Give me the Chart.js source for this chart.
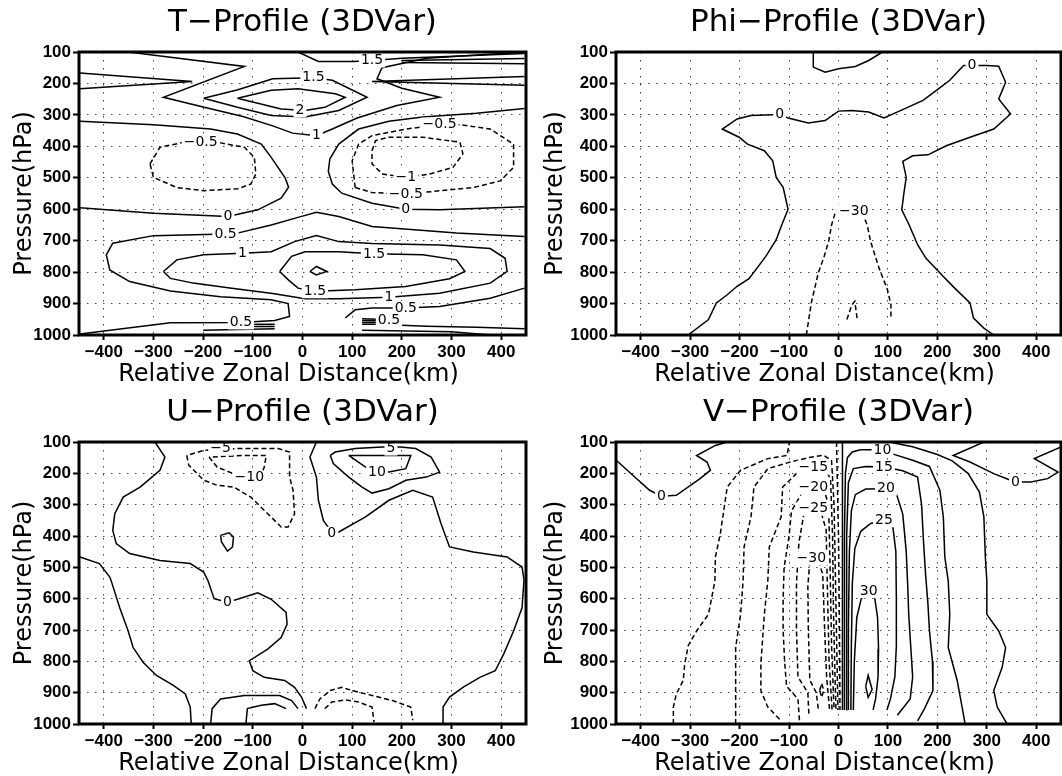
<!DOCTYPE html>
<html>
<head>
<meta charset="utf-8">
<script src="https://cdn.jsdelivr.net/npm/chart.js@4.4.1/dist/chart.umd.min.js"></script>
<style>
  body { margin: 0; background: #fff; }
  #wrap { position: relative; width: 1062px; height: 776px; }
  .panel { position: absolute; width: 531px; height: 388px; }
</style>
</head>
<body>
<div id="wrap">
  <div class="panel" style="left:0;top:0"><canvas id="cT" width="531" height="388"></canvas></div>
  <div class="panel" style="left:531px;top:0"><canvas id="cPhi" width="531" height="388"></canvas></div>
  <div class="panel" style="left:0;top:388px"><canvas id="cU" width="531" height="388"></canvas></div>
  <div class="panel" style="left:531px;top:388px"><canvas id="cV" width="531" height="388"></canvas></div>
</div>
<script>
// axes
const xTicks = [-400, -300, -200, -100, 0, 100, 200, 300, 400];
const pTicks = [100, 200, 300, 400, 500, 600, 700, 800, 900, 1000];

// ---- T-Profile contours: [distance km, pressure hPa] ----
const tWedgeL = [[-448,167],[-222,194],[-448,217]];
const tWedgeR = [[447,178],[140,194],[447,206]];
const tOuter = [[-351,100],[-117,146],[-280,244],[-200,275],[-120,305],[-60,335],[-20,358],[28,366],[60,345],[110,310],[190,270],[276,244],[200,215],[150,185],[160,150],[250,120],[447,100]];
const tTop1 = [[-9,100],[32,130],[103,130],[140,127],[200,120],[447,105]];
const tTop2 = [[200,127],[447,121]];
const tTop3 = [[200,133],[447,137]];
const tUp15 = [[-199,247],[-130,220],[-60,185],[22,182],[60,190],[130,244],[73,286],[5,307],[-63,302],[-131,276],[-199,247]];
const tUp2 = [[-131,247],[-63,222],[-9,217],[66,233],[86,244],[45,276],[5,286],[-43,281],[-131,247]];
const tZeroL = [[-448,595],[-300,613],[-150,623],[-90,602],[-43,565],[-28,530],[-35,500],[-63,435],[-83,393],[-131,361],[-185,345],[-300,331],[-448,320]];
const tZeroR = [[447,592],[276,602],[208,600],[140,581],[79,549],[60,520],[52,480],[55,440],[73,393],[113,345],[174,320],[242,307],[350,295],[447,280]];
const tNeg05L = [[-307,456],[-287,403],[-239,387],[-205,387],[-165,389],[-117,403],[-97,435],[-94,488],[-104,520],[-131,535],[-199,541],[-253,531],[-300,499],[-307,456]];
const tNeg05R = [[106,531],[100,446],[113,393],[140,366],[208,345],[276,331],[317,331],[378,345],[425,393],[425,467],[398,510],[344,531],[208,552],[140,547],[106,531]];
const tNeg1R = [[140,414],[147,382],[174,371],[242,371],[317,387],[323,424],[303,467],[256,488],[208,499],[161,488],[140,456],[140,414]];
const tLow05 = [[447,687],[310,676],[140,655],[73,623],[28,610],[-9,626],[-63,650],[-131,676],[-155,679],[-300,684],[-382,708],[-395,745],[-388,793],[-348,830],[-266,860],[-165,878],[-63,888],[-29,900],[-26,941],[-56,954],[-124,960],[-266,961],[-448,997]];
const tLow1 = [[-280,798],[-253,761],[-199,745],[-121,740],[-63,735],[-16,703],[28,684],[73,703],[140,709],[276,714],[378,725],[408,756],[412,798],[378,835],[276,867],[174,880],[73,885],[5,885],[-60,868],[-150,850],[-220,835],[-266,820],[-280,798]];
const tLow15 = [[-46,798],[-22,750],[5,735],[73,735],[144,742],[242,745],[310,761],[327,798],[296,821],[208,846],[106,856],[25,861],[-9,851],[-29,824],[-46,798]];
const tLow2 = [[15,798],[28,782],[49,798],[28,809],[15,798]];
const tLow05R = [[86,946],[106,920],[140,914],[208,914],[276,909],[378,883],[447,851]];
const tSfcL1 = [[-110,966],[-56,966]];
const tSfcL2 = [[-110,973],[-56,973]];
const tSfcL3 = [[-200,985],[-56,980]];
const tSfcR1 = [[120,948],[150,950]];
const tSfcR2 = [[120,954],[150,955]];
const tSfcR3 = [[120,960],[150,960]];
const tSfcR4 = [[120,966],[150,966],[250,972],[350,975],[447,980]];
const tSfcR5 = [[120,985],[300,990],[380,1000]];
const tLines = [[1.5,tWedgeL],[1.5,tWedgeR],[1,tOuter],[1.5,tTop1],[1.5,tTop2],[1.5,tTop3],[1.5,tUp15],[2,tUp2],
  [0,tZeroL],[0,tZeroR],[-0.5,tNeg05L],[-0.5,tNeg05R],[-1,tNeg1R],[0.5,tLow05],[1,tLow1],[1.5,tLow15],[2,tLow2],
  [0.5,tLow05R],[0.5,tSfcL1],[0.5,tSfcL2],[0.5,tSfcL3],[0.5,tSfcR1],[0.5,tSfcR2],[0.5,tSfcR3],[0.5,tSfcR4],[0.5,tSfcR5]];
const tLabels = [[140,127,1.5],[22,182,1.5],[-5,286,2],[28,366,1],[-205,387,-0.5],[276,331,-0.5],[208,499,-1],[208,553,-0.5],
  [208,600,0],[-150,623,0],[-155,679,0.5],[-121,740,1],[144,742,1.5],[25,861,1.5],[174,880,1],[208,914,0.5],[-124,960,0.5],[174,954,0.5]];

// ---- Phi-Profile contours ----
const phiZeroA = [[-304,1000],[-263,951],[-247,898],[-225,872],[-205,845],[-181,821],[-147,750],[-126,697],[-116,655],[-102,600],[-112,530],[-126,499],[-133,446],[-150,414],[-184,393],[-201,371],[-235,345],[-205,313],[-177,302],[-119,299],[-102,310],[-61,326],[-27,318],[0,288],[27,286],[61,291],[92,310],[123,288],[171,254],[198,222],[225,190],[253,143],[270,143],[300,143],[324,145],[338,196],[324,249],[348,297],[314,345],[266,371],[218,398],[181,427],[150,430],[130,448],[137,499],[132,552],[128,602],[143,650],[160,713],[177,756],[212,814],[235,851],[266,898],[273,946],[294,978],[314,1000]];
const phiZeroB = [[-51,100],[-51,148],[-27,164],[0,153],[34,146],[61,127],[89,100]];
const phiNeg30A = [[-65,1000],[-55,898],[-41,803],[-29,750],[-20,703],[-14,650],[-7,613],[1,602],[31,607],[51,623],[58,650],[65,703],[82,787],[99,856],[106,904],[106,951]];
const phiNeg30B = [[17,951],[27,904],[33,893],[38,951]];
const phiLines = [[0,phiZeroA],[0,phiZeroB],[-30,phiNeg30A],[-30,phiNeg30B]];
const phiLabels = [[-119,299,0],[270,143,0],[31,607,-30]];

// ---- U-Profile contours ----
const uZeroA = [[-297,100],[-277,148],[-287,190],[-327,244],[-361,276],[-378,329],[-382,382],[-375,424],[-348,456],[-287,478],[-226,488],[-199,515],[-190,544],[-178,600],[-151,611],[-131,602],[-90,581],[-63,602],[-33,644],[-31,681],[-43,724],[-70,761],[-107,798],[-100,830],[-77,851],[-36,861],[-16,883],[-2,914],[8,951]];
const uZeroB = [[28,100],[15,148],[28,212],[32,286],[42,350],[56,382],[59,393],[73,387],[127,339],[174,286],[222,254],[262,276],[279,361],[296,435],[344,451],[412,467],[442,499],[446,540],[442,629],[425,703],[405,777],[388,830],[357,851],[323,883],[296,914],[283,946],[283,1000]];
const uZeroC = [[-448,467],[-409,488],[-388,531],[-385,544],[-368,629],[-351,703],[-341,756],[-321,803],[-294,845],[-260,877],[-236,904],[-226,946],[-224,1000]];
const uZeroD = [[-185,1000],[-182,951],[-165,920],[-117,909],[-46,909],[-22,925],[-9,951]];
const uZeroE = [[-114,1000],[-111,951],[-83,940],[-56,935],[-33,951]];
const uZeroF = [[-165,398],[-148,390],[-139,403],[-141,435],[-151,448],[-163,419],[-165,398]];
const uPos5 = [[56,143],[62,169],[93,212],[120,244],[140,263],[174,249],[208,222],[249,212],[276,196],[259,148],[228,121],[198,116],[161,116],[106,121],[66,132],[56,143]];
const uPos10 = [[93,143],[127,180],[150,196],[174,196],[208,185],[218,143],[161,143],[93,143]];
const uNeg5 = [[-233,143],[-229,174],[-199,222],[-172,238],[-138,244],[-104,276],[-70,329],[-43,371],[-29,371],[-16,329],[-19,254],[-26,212],[-26,132],[-49,121],[-131,121],[-199,127],[-233,143]];
const uNeg10 = [[-188,148],[-172,180],[-131,206],[-107,214],[-83,206],[-77,180],[-73,143],[-117,143],[-188,148]];
const uNegSfc1 = [[25,951],[35,920],[56,893],[79,883],[100,893],[140,909],[181,925],[218,946],[222,988]];
const uNegSfc2 = [[45,951],[59,930],[86,923],[113,930],[140,946],[144,994]];
const uLines = [[0,uZeroA],[0,uZeroB],[0,uZeroC],[0,uZeroD],[0,uZeroE],[0,uZeroF],[5,uPos5],[10,uPos10],[-5,uNeg5],[-10,uNeg10],[-5,uNegSfc1],[-10,uNegSfc2]];
const uLabels = [[-165,121,-5],[-107,214,-10],[59,393,0],[178,121,5],[150,196,10],[-151,611,0]];

// ---- V-Profile contours ----
const vZeroL = [[-449,159],[-416,206],[-382,254],[-358,273],[-328,270],[-280,217],[-259,190],[-266,164],[-287,143],[-249,111],[-225,100]];
const vZeroR = [[294,100],[232,143],[266,164],[314,201],[348,222],[358,228],[389,228],[423,217],[444,196],[396,153],[450,116]];
const vNeg5a = [[-334,1000],[-334,946],[-328,904],[-314,861],[-311,808],[-304,750],[-287,703],[-263,650],[-250,544],[-249,467],[-239,393],[-232,318],[-225,244],[-198,190],[-143,153],[-104,143],[-99,100]];
const vNeg5b = [[-4,100],[0,400],[2,700],[3,955]];
const vNeg10 = [[-208,1000],[-208,861],[-208,756],[-198,650],[-193,544],[-191,435],[-177,339],[-171,244],[-143,185],[-100,165],[-61,150],[-30,142],[-14,160],[-9,300],[-6,550],[-3,800],[-1,955]];
const vNeg15 = [[-119,985],[-143,946],[-157,893],[-157,808],[-150,650],[-143,544],[-140,435],[-116,339],[-113,244],[-82,196],[-51,182],[-28,180],[-16,220],[-12,400],[-10,650],[-7,850],[-5,955]];
const vNeg20 = [[-79,988],[-82,920],[-105,880],[-109,800],[-112,700],[-112,600],[-110,500],[-100,400],[-95,320],[-75,265],[-51,246],[-30,250],[-20,300],[-17,500],[-14,750],[-9,955]];
const vNeg25 = [[-60,967],[-62,900],[-82,850],[-85,700],[-85,550],[-80,420],[-70,330],[-51,313],[-36,320],[-25,380],[-22,600],[-19,800],[-13,955]];
const vNeg30 = [[-41,951],[-45,900],[-58,860],[-61,700],[-62,560],[-58,480],[-55,472],[-42,476],[-32,520],[-28,700],[-24,850],[-18,955]];
const vNeg35 = [[-38,893],[-34,870],[-30,893],[-34,915],[-38,893]];
const vPos5a = [[8,100],[8,400],[8,700],[8,955]];
const vPos5b = [[102,100],[150,115],[200,140],[230,160],[262,200],[285,260],[294,339],[297,467],[300,544],[300,650],[324,703],[338,756],[331,819],[314,893],[321,946],[341,1000]];
const vPos10 = [[12,955],[12,700],[12,400],[14,200],[18,150],[28,132],[44,125],[75,125],[89,127],[109,138],[150,158],[184,178],[205,254],[212,339],[215,467],[222,544],[225,650],[222,756],[240,861],[250,946],[256,1000]];
const vPos15 = [[16,955],[16,700],[17,400],[20,230],[30,185],[55,178],[92,180],[130,192],[160,212],[168,300],[172,420],[176,520],[181,620],[184,703],[190,800],[191,893],[174,951],[160,990]];
const vPos20 = [[20,955],[20,700],[22,450],[26,320],[34,268],[55,250],[96,249],[118,270],[130,330],[137,450],[140,560],[142,650],[146,750],[150,850],[145,920],[119,972]];
const vPos25 = [[25,955],[26,750],[28,550],[33,440],[45,385],[65,360],[92,350],[110,372],[116,450],[117,600],[117,750],[114,850],[105,920],[98,955]];
const vPos30 = [[30,955],[32,800],[37,660],[46,600],[61,576],[73,595],[79,660],[81,760],[80,850],[75,920],[70,955]];
const vPos35 = [[55,880],[60,845],[68,890],[60,915],[55,880]];
const vLines = [[0,vZeroL],[0,vZeroR],[-5,vNeg5a],[-5,vNeg5b],[-10,vNeg10],[-15,vNeg15],[-20,vNeg20],[-25,vNeg25],[-30,vNeg30],[-35,vNeg35],
  [5,vPos5a],[5,vPos5b],[10,vPos10],[15,vPos15],[20,vPos20],[25,vPos25],[30,vPos30],[35,vPos35]];
const vLabels = [[-358,273,0],[358,228,0],[-51,182,-15],[-51,246,-20],[-51,313,-25],[-55,472,-30],[89,127,10],[92,180,15],[96,249,20],[92,350,25],[61,576,30]];

const fmt = v => (v < 0 ? '\u2212' : '') + Math.abs(v);

// contour labels: white gap + value
const contourLabels = {
  id: 'contourLabels',
  afterDatasetsDraw(chart, args, opts) {
    const { ctx } = chart;
    const xs = chart.scales.x, ys = chart.scales.y;
    ctx.save();
    ctx.font = '14px "DejaVu Sans"';
    ctx.textAlign = 'center';
    ctx.textBaseline = 'middle';
    for (const [x, p, lev] of opts.items) {
      const px = xs.getPixelForValue(x), py = ys.getPixelForValue(p);
      const txt = fmt(lev);
      const w = ctx.measureText(txt).width;
      ctx.fillStyle = '#fff';
      ctx.fillRect(px - w / 2 - 2, py - 7, w + 4, 14);
      ctx.fillStyle = '#000';
      ctx.fillText(txt, px, py);
    }
    ctx.restore();
  }
};

// frame + panel title + x title
const panelText = {
  id: 'panelText',
  afterDraw(chart, args, opts) {
    const { ctx, chartArea: a } = chart;
    ctx.save();
    ctx.strokeStyle = '#000';
    ctx.lineWidth = 3;
    ctx.strokeRect(a.left, a.top, a.right - a.left, a.bottom - a.top);
    ctx.fillStyle = '#000';
    ctx.textAlign = 'center';
    ctx.textBaseline = 'middle';
    ctx.font = '31px "DejaVu Sans"';
    ctx.fillText(opts.title, (a.left + a.right) / 2, a.top - 29);
    ctx.font = '24px "DejaVu Sans"';
    ctx.fillText('Relative Zonal Distance(km)', (a.left + a.right) / 2 - 14, a.bottom + 40);
    ctx.restore();
  }
};

function makePanel(id, title, lines, labels, box) {
  const tickFont = { family: '"Liberation Sans", Arial, sans-serif', size: 17, weight: 'bold' };
  const datasets = lines.map(([lev, pts]) => ({
    data: pts.map(([x, y]) => ({ x, y })),
    showLine: true,
    borderColor: '#000',
    borderWidth: 1.5,
    borderDash: lev < 0 ? [5, 3] : [],
    pointRadius: 0,
    tension: 0
  }));
  new Chart(document.getElementById(id), {
    type: 'scatter',
    data: { datasets },
    options: {
      responsive: false,
      animation: false,
      events: [],
      layout: { padding: { left: 0, right: 531 - box.right, top: box.top, bottom: 0 } },
      plugins: {
        legend: { display: false },
        tooltip: { enabled: false },
        contourLabels: { items: labels },
        panelText: { title }
      },
      scales: {
        x: {
          type: 'linear', min: -450, max: 450,
          afterBuildTicks: s => { s.ticks = xTicks.map(v => ({ value: v })); },
          afterFit: s => { s.height = 388 - box.bottom; },
          ticks: { font: tickFont, color: '#000', padding: 2, maxRotation: 0, autoSkip: false, callback: v => fmt(v) },
          grid: { color: '#444', lineWidth: 1, tickLength: 5, tickColor: '#000', tickWidth: 2 },
          border: { display: true, width: 0, dash: [1.5, 6.5] }
        },
        y: {
          type: 'linear', min: 100, max: 1000, reverse: true,
          afterBuildTicks: s => { s.ticks = pTicks.map(v => ({ value: v })); },
          afterFit: s => { s.width = box.left; },
          ticks: { font: tickFont, color: '#000', padding: 2, autoSkip: false, callback: v => String(v) },
          grid: { color: '#444', lineWidth: 1, tickLength: 6, tickColor: '#000', tickWidth: 2 },
          border: { display: true, width: 0, dash: [1.5, 6.5] },
          title: { display: true, text: 'Pressure(hPa)', color: '#000', font: { family: '"DejaVu Sans"', size: 24 }, padding: { top: 10, bottom: 0 } }
        }
      }
    },
    plugins: [contourLabels, panelText]
  });
}

makePanel('cT', 'T\u2212Profile (3DVar)', tLines, tLabels, { left: 79, right: 526, top: 52, bottom: 335 });
makePanel('cPhi', 'Phi\u2212Profile (3DVar)', phiLines, phiLabels, { left: 85, right: 530, top: 52, bottom: 335 });
makePanel('cU', 'U\u2212Profile (3DVar)', uLines, uLabels, { left: 79, right: 526, top: 54, bottom: 336 });
makePanel('cV', 'V\u2212Profile (3DVar)', vLines, vLabels, { left: 85, right: 530, top: 54, bottom: 336 });
</script>
</body>
</html>
